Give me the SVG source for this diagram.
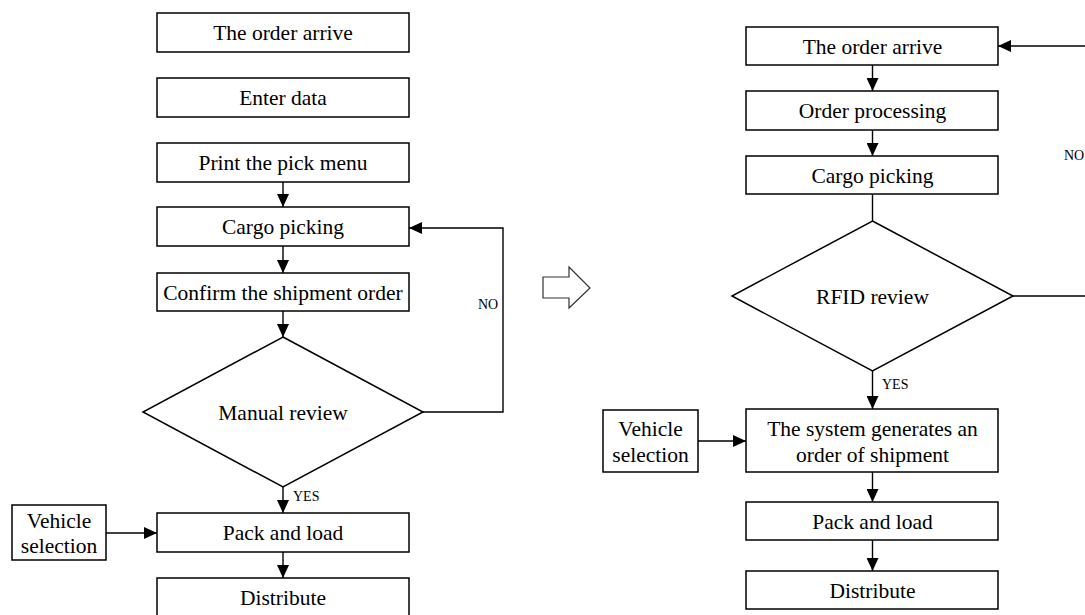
<svg xmlns="http://www.w3.org/2000/svg" width="1085" height="615" viewBox="0 0 1085 615">
<defs>
<marker id="ah" markerUnits="userSpaceOnUse" markerWidth="14" markerHeight="12" refX="13" refY="6" orient="auto">
<path d="M0,0 L13,6 L0,12 Z" fill="#000"/>
</marker>
<style>
.box{fill:#fff;stroke:#000;stroke-width:1.5}
.t{font-family:"Liberation Serif","Times New Roman",serif;font-size:21.5px;fill:#000;text-anchor:middle}
.s{font-family:"Liberation Serif","Times New Roman",serif;font-size:14px;fill:#000}
.ln{fill:none;stroke:#000;stroke-width:1.4}
.ar{fill:none;stroke:#000;stroke-width:1.4;marker-end:url(#ah)}
</style>
</defs>
<rect width="1085" height="615" fill="#fff"/>
<g id="connectors">
<line class="ar" x1="283" y1="182" x2="283" y2="207"/>
<line class="ar" x1="283" y1="246" x2="283" y2="273"/>
<line class="ar" x1="283" y1="311" x2="283" y2="337"/>
<polyline class="ar" points="423,412 503,412 503,228 409,228"/>
<line class="ar" x1="283" y1="487" x2="283" y2="513"/>
<line class="ar" x1="283" y1="552" x2="283" y2="578"/>
<line class="ar" x1="106" y1="533" x2="157" y2="533"/>
<text class="s" x="478" y="309">NO</text>
<text class="s" x="293" y="501">YES</text>
<line class="ar" x1="872.5" y1="65" x2="872.5" y2="91"/>
<line class="ar" x1="872.5" y1="130" x2="872.5" y2="156"/>
<line class="ln" x1="872.5" y1="194" x2="872.5" y2="221"/>
<line class="ln" x1="1013" y1="296" x2="1090" y2="296"/>
<line class="ar" x1="1090" y1="46" x2="998" y2="46"/>
<text class="s" x="1064" y="160">NO</text>
<line class="ar" x1="872.5" y1="371" x2="872.5" y2="409"/>
<text class="s" x="882" y="389">YES</text>
<line class="ar" x1="698" y1="441" x2="746" y2="441"/>
<line class="ar" x1="872.5" y1="472" x2="872.5" y2="502"/>
<line class="ar" x1="872.5" y1="540" x2="872.5" y2="571"/>
</g>
<g id="big-arrow">
<polygon points="543,277 569,277 569,267 590,288 569,308 569,298 543,298" fill="#fff" stroke="#333" stroke-width="1.2"/>
</g>
<g id="l-order"><rect class="box" x="157" y="13" width="252" height="39"/><text class="t" x="283" y="40">The order arrive</text></g>
<g id="l-enter"><rect class="box" x="157" y="78" width="252" height="39"/><text class="t" x="283" y="105">Enter data</text></g>
<g id="l-print"><rect class="box" x="157" y="143" width="252" height="39"/><text class="t" x="283" y="170">Print the pick menu</text></g>
<g id="l-cargo"><rect class="box" x="157" y="207" width="252" height="39"/><text class="t" x="283" y="234">Cargo picking</text></g>
<g id="l-confirm"><rect class="box" x="157" y="273" width="252" height="38"/><text class="t" x="283" y="299.5">Confirm the shipment order</text></g>
<g id="l-review"><polygon class="box" points="283,337 423,412 283,487 143,412"/><text class="t" x="283" y="419.5">Manual review</text></g>
<g id="l-vehicle"><rect class="box" x="12" y="505" width="94" height="55"/><text class="t" x="59" y="528">Vehicle</text><text class="t" x="59" y="553">selection</text></g>
<g id="l-pack"><rect class="box" x="157" y="513" width="252" height="39"/><text class="t" x="283" y="540">Pack and load</text></g>
<g id="l-dist"><rect class="box" x="157" y="578" width="252" height="39"/><text class="t" x="283" y="605">Distribute</text></g>
<g id="r-order"><rect class="box" x="746" y="27" width="252" height="38"/><text class="t" x="872.5" y="53.5">The order arrive</text></g>
<g id="r-proc"><rect class="box" x="746" y="91" width="252" height="39"/><text class="t" x="872.5" y="118">Order processing</text></g>
<g id="r-cargo"><rect class="box" x="746" y="156" width="252" height="38"/><text class="t" x="872.5" y="182.5">Cargo picking</text></g>
<g id="r-review"><polygon class="box" points="872.5,221 1013,296 872.5,371 732,296"/><text class="t" x="872.5" y="303.5">RFID review</text></g>
<g id="r-vehicle"><rect class="box" x="603" y="410" width="95" height="62"/><text class="t" x="650.5" y="436">Vehicle</text><text class="t" x="650.5" y="462">selection</text></g>
<g id="r-system"><rect class="box" x="746" y="409" width="252" height="63"/><text class="t" x="872.5" y="436">The system generates an</text><text class="t" x="872.5" y="462">order of shipment</text></g>
<g id="r-pack"><rect class="box" x="746" y="502" width="252" height="38"/><text class="t" x="872.5" y="528.5">Pack and load</text></g>
<g id="r-dist"><rect class="box" x="746" y="571" width="252" height="38"/><text class="t" x="872.5" y="597.5">Distribute</text></g>
</svg>
